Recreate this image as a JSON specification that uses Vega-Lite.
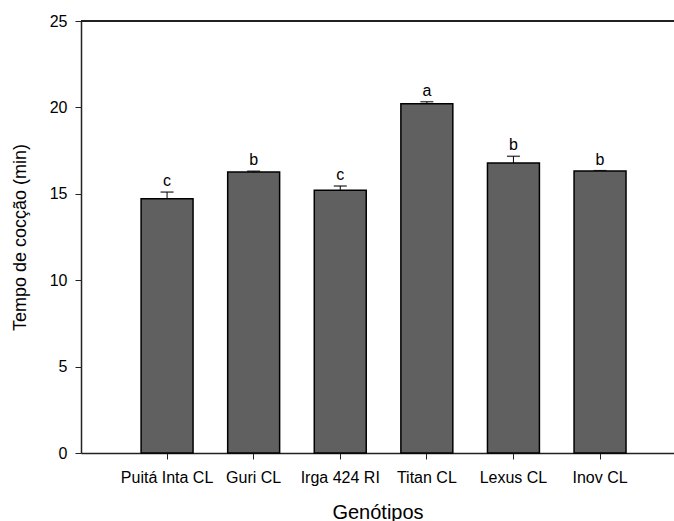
{
  "$schema": "https://vega.github.io/schema/vega-lite/v6.json",
  "width": 593,
  "height": 432,
  "autosize": {"type": "none"},
  "padding": {"left": 81, "top": 21, "right": 0, "bottom": 68},
  "background": "white",
  "config": {
    "view": {"stroke": null},
    "font": "Liberation Sans",
    "axis": {"domainColor": "#222", "tickColor": "#222", "labelColor": "#000", "titleColor": "#000", "labelFont": "Liberation Sans", "titleFont": "Liberation Sans", "titleFontWeight": "normal", "grid": false, "domainWidth": 1.5, "tickWidth": 1}
  },
  "data": {
    "values": [
      {"genotipo": "Puitá Inta CL", "tempo": 14.72, "sup": 15.1, "letra": "c"},
      {"genotipo": "Guri CL", "tempo": 16.26, "sup": 16.31, "letra": "b"},
      {"genotipo": "Irga 424 RI", "tempo": 15.2, "sup": 15.45, "letra": "c"},
      {"genotipo": "Titan CL", "tempo": 20.21, "sup": 20.33, "letra": "a"},
      {"genotipo": "Lexus CL", "tempo": 16.78, "sup": 17.17, "letra": "b"},
      {"genotipo": "Inov CL", "tempo": 16.32, "sup": 16.34, "letra": "b"}
    ]
  },
  "encoding": {
    "x": {
      "field": "genotipo", "type": "nominal", "sort": null,
      "scale": {"paddingInner": 0.4, "paddingOuter": 0.624, "align": 0.556},
      "axis": {"title": "Genótipos", "labelAngle": 0, "labelFontSize": 16, "titleFontSize": 20, "tickSize": 6, "labelPadding": 10, "titlePadding": 17}
    }
  },
  "layer": [
    {
      "mark": {"type": "rule", "color": "#222", "strokeWidth": 1.5},
      "encoding": {"x": null, "y": {"datum": 25, "type": "quantitative"}}
    },
    {
      "mark": {"type": "rule", "color": "#000", "strokeWidth": 1},
      "encoding": {
        "y": {"field": "tempo", "type": "quantitative"},
        "y2": {"field": "sup"}
      }
    },
    {
      "mark": {"type": "tick", "color": "#000", "size": 13, "thickness": 1.5},
      "encoding": {"y": {"field": "sup", "type": "quantitative"}}
    },
    {
      "mark": {"type": "bar", "color": "#606060", "stroke": "#000", "strokeWidth": 1.5},
      "encoding": {
        "y": {
          "field": "tempo", "type": "quantitative",
          "scale": {"domain": [0, 25], "nice": false},
          "axis": {"title": "Tempo de cocção (min)", "values": [0, 5, 10, 15, 20, 25], "labelFontSize": 16, "titleFontSize": 18, "tickSize": 6, "labelPadding": 8, "titlePadding": 20}
        }
      }
    },
    {
      "mark": {"type": "text", "fontSize": 16, "baseline": "alphabetic", "dy": -6, "font": "Liberation Sans"},
      "encoding": {
        "y": {"field": "sup", "type": "quantitative"},
        "text": {"field": "letra"}
      }
    }
  ]
}
